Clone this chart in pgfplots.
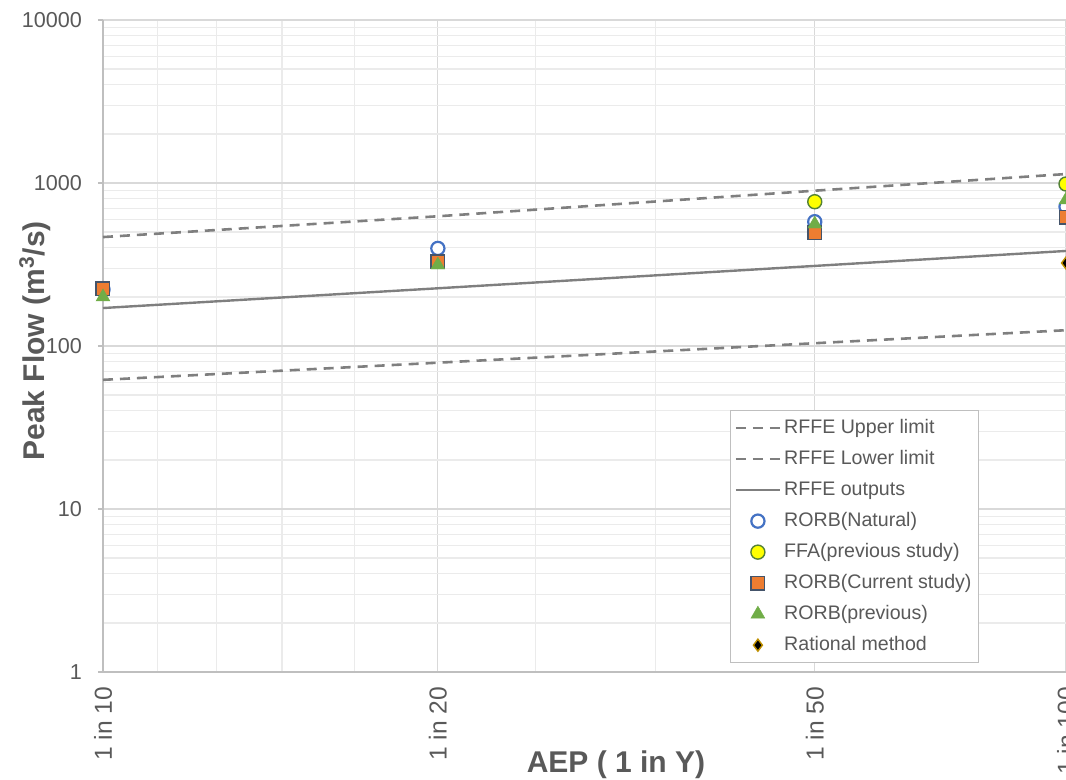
\documentclass[border=0pt]{standalone}
\usepackage{pgfplots}
\pgfplotsset{compat=1.18}
\usepackage{fontspec}
\setmainfont{Liberation Sans}

\definecolor{txt}{HTML}{595959}
\definecolor{gridmaj}{HTML}{D9D9D9}
\definecolor{gridmin}{HTML}{EBEBEB}
\definecolor{axl}{HTML}{BFBFBF}
\definecolor{rffe}{HTML}{7F7F7F}
\definecolor{natblue}{HTML}{4472C4}
\definecolor{ffayel}{HTML}{FFFF00}
\definecolor{ffaedge}{HTML}{548235}
\definecolor{curorange}{HTML}{ED7D31}
\definecolor{curedge}{HTML}{44546A}
\definecolor{prevgreen}{HTML}{70AD47}
\definecolor{ratedge}{HTML}{BF9000}

% x positions are standard normal quantiles of the non-exceedance probability
% 1 in 10 -> 1.28155, 1 in 20 -> 1.64485, 1 in 50 -> 2.05375, 1 in 100 -> 2.32635

\begin{document}
\begin{tikzpicture}
\begin{axis}[%
width=481.5pt,%
height=326pt,%
scale only axis,%
xmin=1.28155, xmax=2.32635,%
ymode=log, ymin=1, ymax=10000,%
axis x line*=bottom, axis y line*=left,%
axis line style={axl, line width=1pt},%
xtick={1.28155,1.64485,2.05375,2.32635},%
xticklabels={1 in 10,1 in 20,1 in 50,1 in 100},%
minor xtick={1.34076,1.40507,1.47579,1.55477,1.75069,1.88079},%
ytick={1,10,100,1000,10000},%
yticklabels={1,10,100,1000,10000},%
minor ytick={2,3,4,5,6,7,8,9,20,30,40,50,60,70,80,90,200,300,400,500,600,700,800,900,2000,3000,4000,5000,6000,7000,8000,9000},%
xmajorgrids, xminorgrids, ymajorgrids, yminorgrids,%
major grid style={gridmaj, line width=0.6pt},%
minor grid style={gridmin, line width=0.6pt},%
xtick style={draw=none},%
ytick style={axl, line width=0.8pt},%
minor tick length=0pt,%
major tick length=2.5pt,%
tick align=outside,%
xticklabel style={rotate=90, anchor=east, xshift=-1.5pt, font=\fontsize{12.3}{14}\selectfont, text=txt},%
yticklabel style={font=\fontsize{10.8}{12}\selectfont, text=txt, xshift=-4.5pt},%
xlabel={AEP ( 1 in Y)},%
ylabel={Peak Flow (m\textsuperscript{3}/s)},%
every axis x label/.style={at={(axis description cs:0.5327,0)}, anchor=center, yshift=-46.5pt, font=\fontsize{15}{17}\selectfont\bfseries, text=txt},%
every axis y label/.style={at={([xshift=-34pt]axis description cs:0,0.5077)}, anchor=center, rotate=90, font=\fontsize{15}{17}\selectfont\bfseries, text=txt},%
legend style={at={(axis description cs:0.6511,0.4018)}, anchor=north west, draw=axl, line width=0.6pt, fill=white, font=\fontsize{9.8}{11}\selectfont, text=txt, row sep=2pt, inner xsep=2pt, inner ysep=2pt, nodes={inner sep=1.5pt, text height=8pt, text depth=2.5pt}},%
legend cell align=left,%
legend image code/.code={\draw[mark repeat=2,mark phase=2,#1] plot coordinates {(0pt,0pt) (11pt,0pt) (22pt,0pt)};},%
]

\addplot [rffe, line width=1.3pt, dash pattern=on 5pt off 3.5pt] coordinates {
 (1.28155,466) (1.64485,625) (2.05375,897) (2.32635,1135)
};
\addlegendentry{RFFE Upper limit}

\addplot [rffe, line width=1.3pt, dash pattern=on 5pt off 3.5pt] coordinates {
 (1.28155,62) (1.64485,79) (2.05375,104) (2.32635,125)
};
\addlegendentry{RFFE Lower limit}

\addplot [rffe, line width=1.2pt] coordinates {
 (1.28155,171) (1.64485,226) (2.05375,310) (2.32635,383)
};
\addlegendentry{RFFE outputs}

\addplot [only marks, mark=*, mark size=3.3pt, mark options={draw=natblue, fill=white, line width=1.1pt}] coordinates {
 (1.28155,222) (1.64485,397) (2.05375,579) (2.32635,716)
};
\addlegendentry{RORB(Natural)}

\addplot [only marks, mark=*, mark size=3.5pt, mark options={draw=ffaedge, fill=ffayel, line width=0.7pt}] coordinates {
 (2.05375,768) (2.32635,986)
};
\addlegendentry{FFA(previous study)}

\addplot [only marks, mark=square*, mark size=3.4pt, mark options={draw=curedge, fill=curorange, line width=0.7pt}] coordinates {
 (1.28155,224) (1.64485,329) (2.05375,496) (2.32635,618)
};
\addlegendentry{RORB(Current study)}

\addplot [only marks, mark=triangle*, mark size=4pt, mark options={draw=prevgreen, fill=prevgreen, line width=0.2pt}] coordinates {
 (1.28155,200) (1.64485,314) (2.05375,560) (2.32635,787)
};
\addlegendentry{RORB(previous)}

\addplot [only marks, mark=diamond*, mark size=3pt, mark options={draw=ratedge, fill=black, line width=0.7pt}] coordinates {
 (2.32635,323)
};
\addlegendentry{Rational method}

\end{axis}
\pgfresetboundingbox
\useasboundingbox (-51.5pt,-54pt) rectangle (481.5pt,336pt);
\end{tikzpicture}
\end{document}
